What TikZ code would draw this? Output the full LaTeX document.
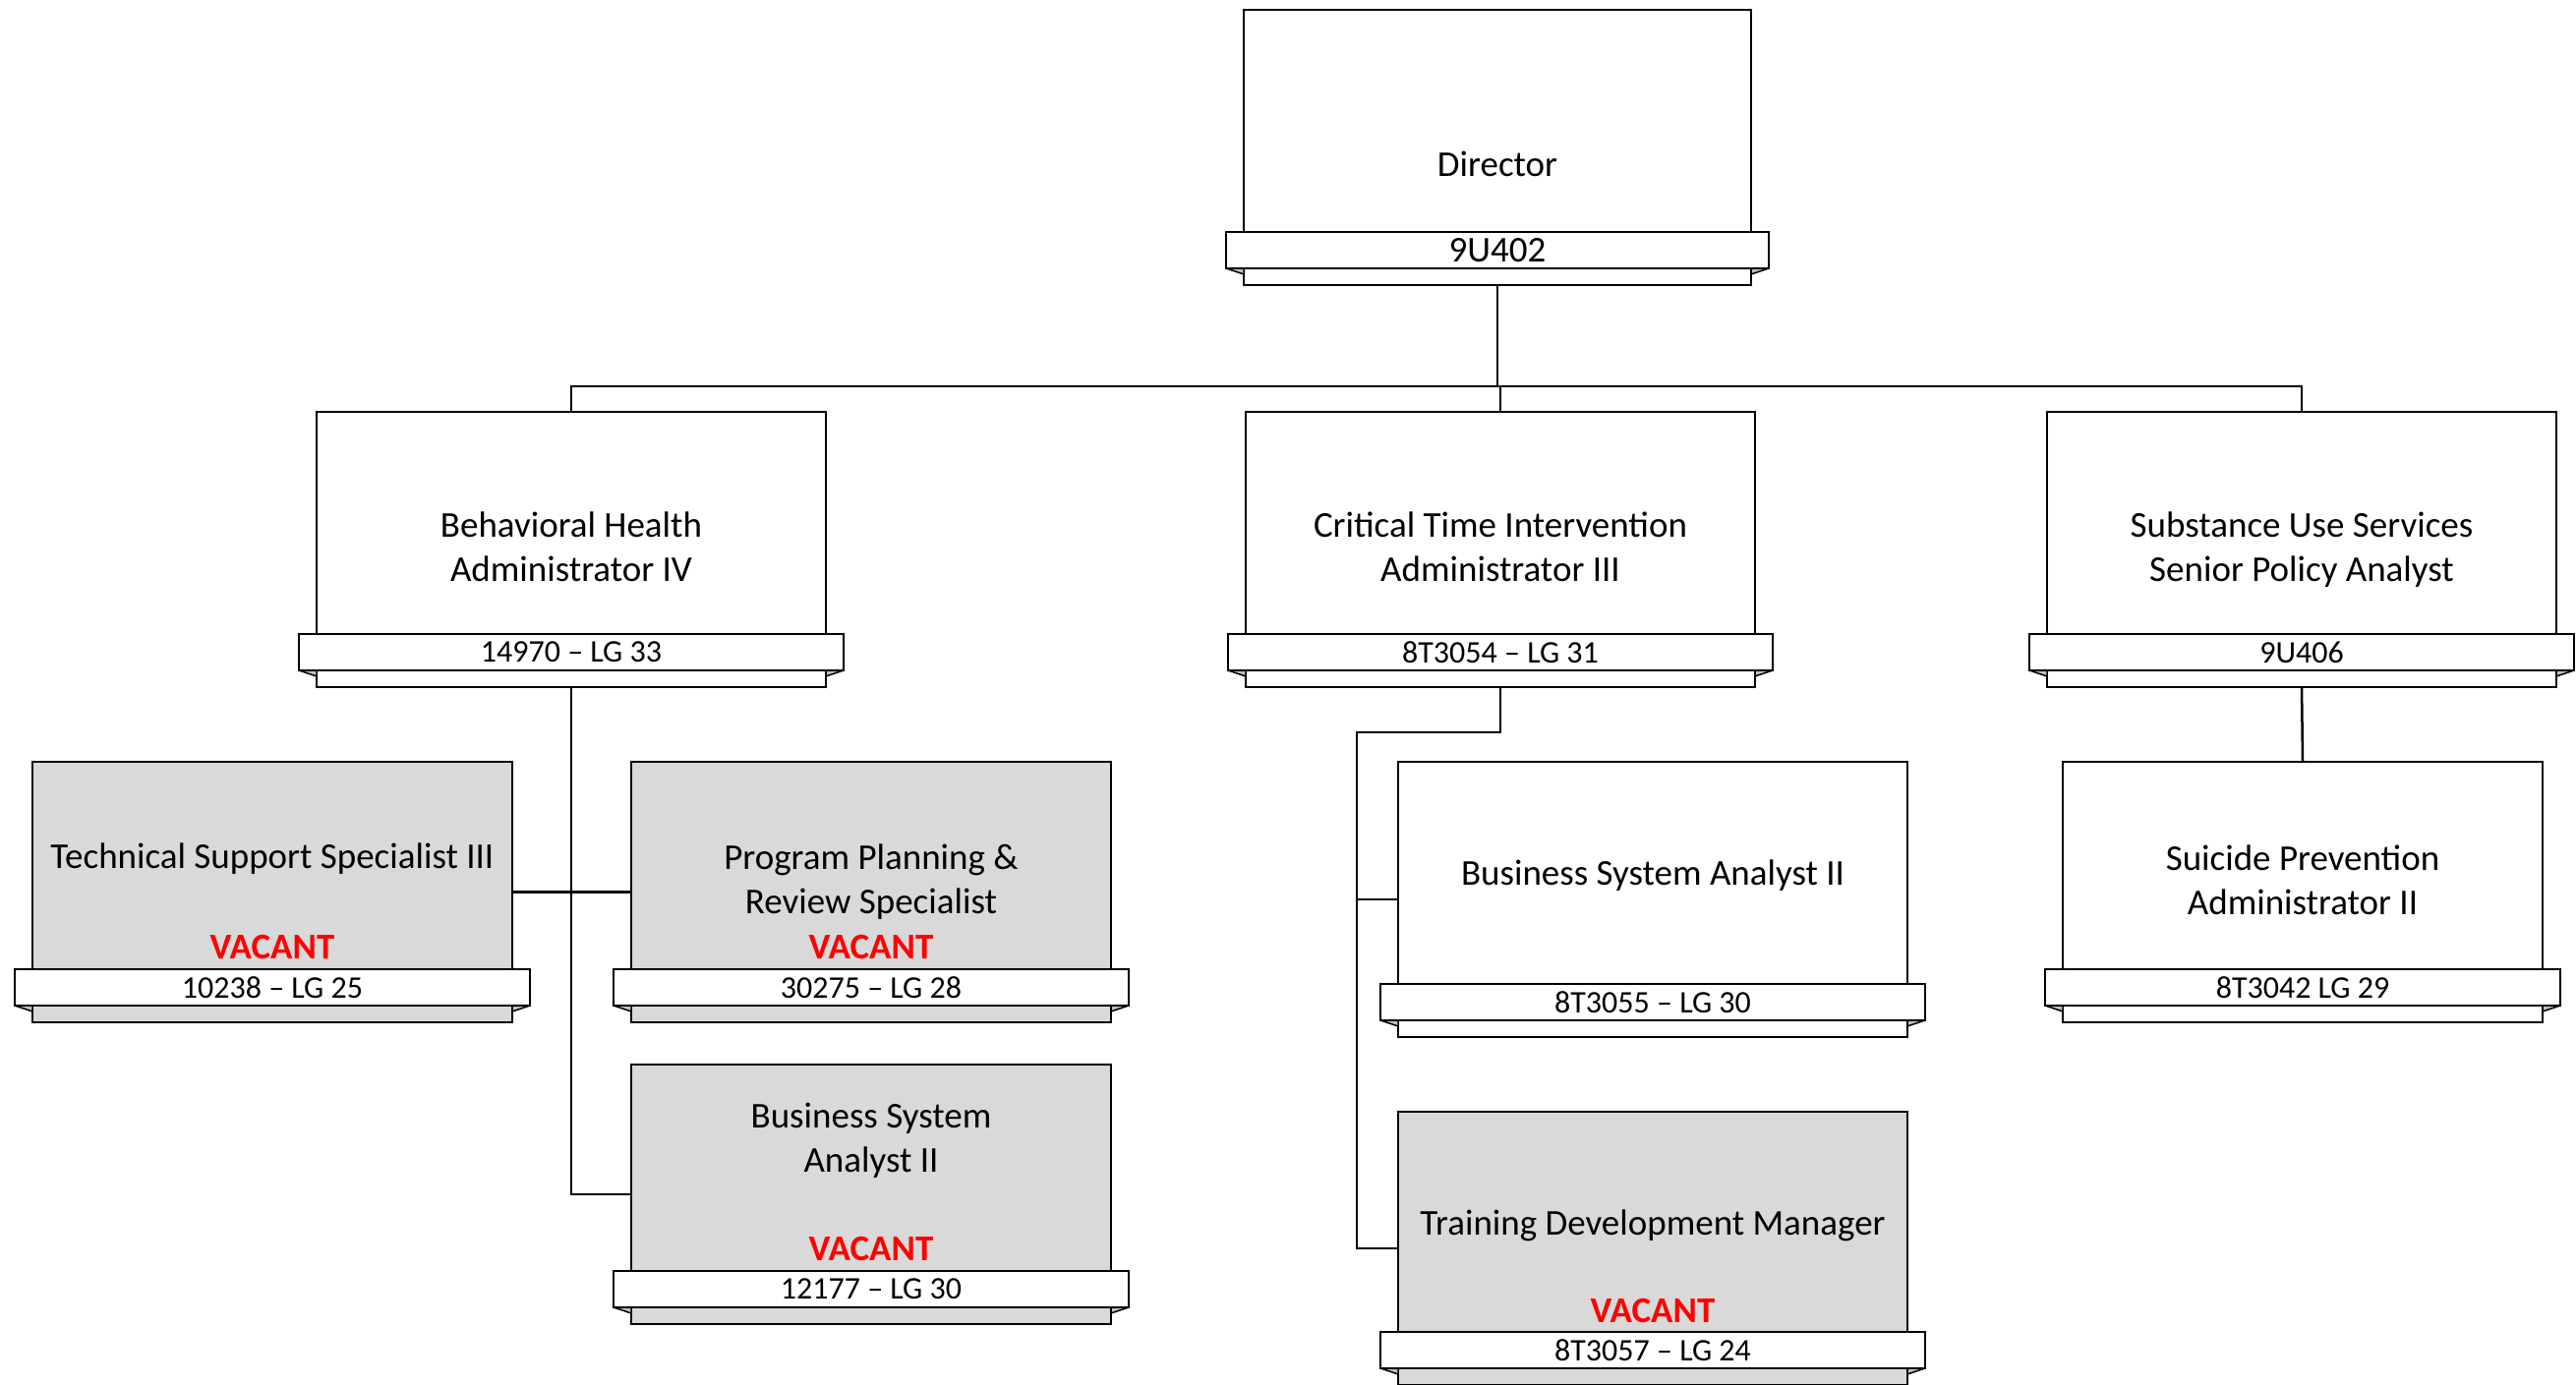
\documentclass[tikz,border=0pt]{standalone}
\usepackage{fontspec}
\setmainfont{Carlito}
\definecolor{vacgray}{RGB}{217,217,217}
\definecolor{foldgray}{RGB}{191,191,191}
\definecolor{vacred}{RGB}{255,0,0}
\newcommand{\titlefont}{\fontsize{37}{45}\selectfont}
\newcommand{\bannerfont}{\fontsize{32}{38}\selectfont}
\newcommand{\dirbannerfont}{\fontsize{37}{44}\selectfont}
\tikzset{
  cardbox/.style={draw=black, line width=2pt, inner sep=0pt, outer sep=0pt},
  banner/.style={draw=black, fill=white, line width=2pt, minimum height=37pt, inner sep=0pt, outer sep=0pt, font=\bannerfont},
  fold/.style={draw=black, fill=foldgray, line width=1.5pt, line join=round},
  title/.style={align=center, font=\titlefont, inner sep=0pt},
  vacant/.style={text=vacred, font=\titlefont\bfseries, inner sep=0pt},
  link/.style={draw=black, line width=2.5pt}
}
% #1 name, #2 cx, #3 top, #4 width, #5 banner top, #6 fill, #7 banner text
\newcommand{\orgcard}[7]{%
  \pgfmathsetmacro\cardh{#5+54-#3}%
  \pgfmathsetmacro\bannerw{#4+36}%
  \node[cardbox, fill=#6, minimum width=#4pt, minimum height=\cardh pt, anchor=north] (#1) at (#2,#3) {};
  \node[banner, minimum width=\bannerw pt, anchor=north] (#1b) at (#2,#5) {#7};
  \draw[fold] (#1b.south west) -- (#1.west |- #1b.south) -- ([yshift=-6pt]#1.west |- #1b.south) -- cycle;
  \draw[fold] (#1b.south east) -- (#1.east |- #1b.south) -- ([yshift=-6pt]#1.east |- #1b.south) -- cycle;
}
\begin{document}
\begin{tikzpicture}[x=1pt,y=-1pt]
\useasboundingbox (0,0) rectangle (2620,1408);
\clip (0,0) rectangle (2620,1408);

% cards
\orgcard{dir}{1523}{10}{516}{236}{white}{\dirbannerfont 9U402}
\orgcard{bh}{581}{419}{518}{645}{white}{14970 – LG 33}
\orgcard{cti}{1526}{419}{518}{645}{white}{8T3054 – LG 31}
\orgcard{sus}{2341}{419}{518}{645}{white}{9U406}
\orgcard{tss}{277}{775}{488}{986}{vacgray}{10238 – LG 25}
\orgcard{ppr}{886}{775}{488}{986}{vacgray}{30275 – LG 28}
\orgcard{bsal}{886}{1083}{488}{1293}{vacgray}{12177 – LG 30}
\orgcard{bsa}{1681}{775}{518}{1001}{white}{8T3055 – LG 30}
\orgcard{tdm}{1681}{1131}{518}{1355}{vacgray}{8T3057 – LG 24}
\orgcard{spa}{2342}{775}{488}{986}{white}{8T3042 LG 29}

% titles
\node[title] (dirt) at (1523,167) {Director};
\node[title] (bht) at (581,556) {Behavioral Health\\Administrator IV};
\node[title] (ctit) at (1526,556) {Critical Time Intervention\\Administrator III};
\node[title] (sust) at (2341,559) {Substance Use Services\\Senior Policy Analyst};
\node[title] (tsst) at (277,874) {Technical Support Specialist III};
\node[vacant] (tssv) at (277,963) {VACANT};
\node[title] (pprt) at (886,897) {Program Planning \&\\Review Specialist};
\node[vacant] (pprv) at (886,963) {VACANT};
\node[title] (bsalt) at (886,1160) {Business System\\Analyst II};
\node[vacant] (bsalv) at (886,1270) {VACANT};
\node[title] (bsat) at (1681,891) {Business System Analyst II};
\node[title] (tdmt) at (1681,1247) {Training Development Manager};
\node[vacant] (tdmv) at (1681,1333) {VACANT};
\node[title] (spat) at (2342,895) {Suicide Prevention\\Administrator II};

% connectors
\coordinate (busL) at (581,393);
\draw[link] (dir.south) -- (dir.south |- busL);
\draw[link] (cti.north) -- (cti.north |- busL);
\draw[link] (bh.north) -- (busL) -| (sus.north);
\draw[link] (bh.south) -- (bh.south |- bsal.west) -- (bsal.west);
\draw[link] (tss.east) -- (ppr.west);
\coordinate (ctij) at (1380,745);
\draw[link] (cti.south) |- (ctij) -- (ctij |- tdm.west) -- (tdm.west);
\draw[link] (ctij |- bsa.west) -- (bsa.west);
\draw[link] (sus.south) -- (spa.north);
\end{tikzpicture}
\end{document}
